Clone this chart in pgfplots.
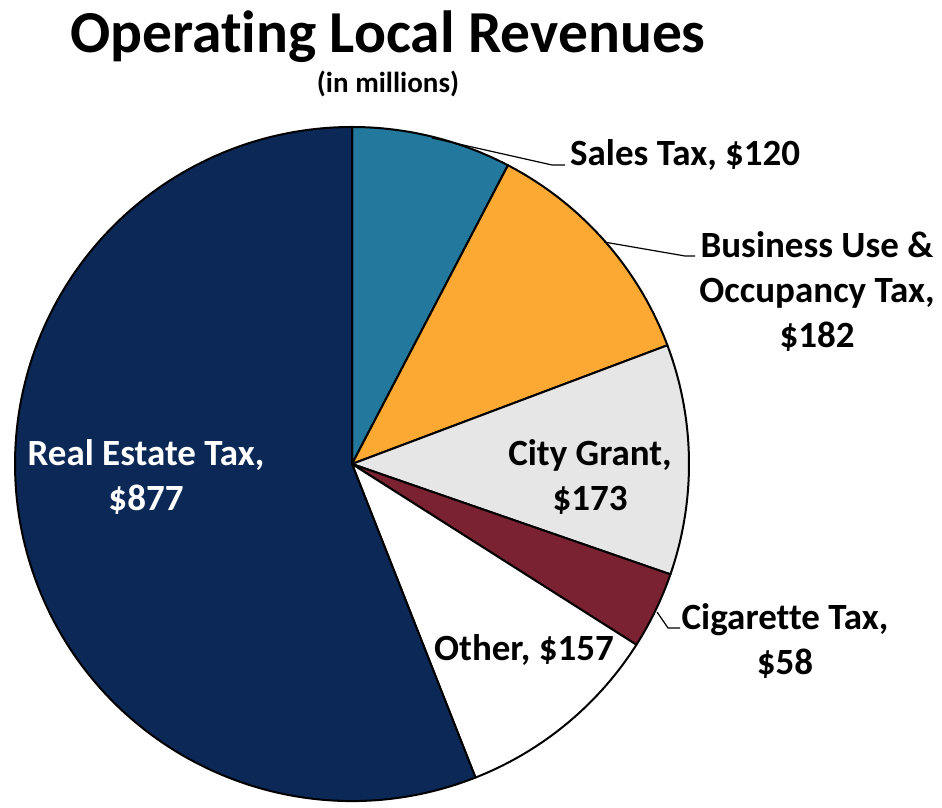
\documentclass[border=0pt]{standalone}
\usepackage{pgfplots}
\usepackage{pgfplotstable}
\pgfplotsset{compat=1.18}
\usepackage{fontspec}
\setmainfont{Carlito}[RawFeature=-liga]
\definecolor{salesc}{RGB}{35,120,158}
\definecolor{buotc}{RGB}{251,169,51}
\definecolor{cityc}{RGB}{230,230,230}
\definecolor{cigc}{RGB}{123,34,50}
\definecolor{rec}{RGB}{12,40,86}
\pgfplotstableread{
name value
Sales 120
BUOT 182
City 173
Cig 58
Other 157
RealEstate 877
}\revtable
\begin{document}
\begin{tikzpicture}
\pgfplotstablegetelem{0}{value}\of\revtable \pgfmathsetmacro\vA{\pgfplotsretval}
\pgfplotstablegetelem{1}{value}\of\revtable \pgfmathsetmacro\vB{\pgfplotsretval}
\pgfplotstablegetelem{2}{value}\of\revtable \pgfmathsetmacro\vC{\pgfplotsretval}
\pgfplotstablegetelem{3}{value}\of\revtable \pgfmathsetmacro\vD{\pgfplotsretval}
\pgfplotstablegetelem{4}{value}\of\revtable \pgfmathsetmacro\vE{\pgfplotsretval}
\pgfplotstablegetelem{5}{value}\of\revtable \pgfmathsetmacro\vF{\pgfplotsretval}
\pgfmathsetmacro\tot{\vA+\vB+\vC+\vD+\vE+\vF}
\pgfmathsetmacro\aA{90}
\pgfmathsetmacro\aB{\aA-360*(\vA/\tot)}
\pgfmathsetmacro\aC{\aB-360*(\vB/\tot)}
\pgfmathsetmacro\aD{\aC-360*(\vC/\tot)}
\pgfmathsetmacro\aE{\aD-360*(\vD/\tot)}
\pgfmathsetmacro\aF{\aE-360*(\vE/\tot)}
\pgfmathsetmacro\aG{-270}
\begin{axis}[
  at={(0,0)}, anchor=south west,
  width=942pt, height=808pt, scale only axis,
  xmin=0, xmax=942, ymin=0, ymax=808,
  hide axis, clip=false, xtick=\empty, ytick=\empty,
]
\def\pie#1#2#3{%
  \filldraw[fill=#1, draw=black, line width=2pt, line join=round]
    (axis cs:352,344) -- ++(#2:337pt) arc[start angle=#2, end angle=#3, radius=337pt] -- cycle;}
\pie{salesc}{\aA}{\aB}
\pie{buotc}{\aB}{\aC}
\pie{cityc}{\aC}{\aD}
\pie{cigc}{\aD}{\aE}
\pie{white}{\aE}{\aF}
\pie{rec}{\aF}{\aG}
% leader lines
\draw[line width=1.2pt] (axis cs:432,670) -- (axis cs:552,643) -- (axis cs:565,643);
\draw[line width=1.2pt] (axis cs:604,566) -- (axis cs:685,552) -- (axis cs:695,552);
\draw[line width=1.2pt] (axis cs:657,196) -- (axis cs:668,180) -- (axis cs:680,180);
% title
\node[anchor=base, font=\fontsize{59.5}{70}\selectfont\bfseries, inner sep=0] at (axis cs:388,755) {Operating Local Revenues};
\node[anchor=base, font=\fontsize{29}{34}\selectfont\bfseries, inner sep=0] at (axis cs:388,715) {(in millions)};
% labels
\tikzset{lbl/.style={anchor=base, font=\fontsize{37}{44}\selectfont\bfseries, inner sep=0}}
\node[lbl, anchor=base west] at (axis cs:570,642) {Sales Tax, \$120};
\node[lbl] at (axis cs:817,550) {Business Use \&};
\node[lbl] at (axis cs:817,505) {Occupancy Tax,};
\node[lbl] at (axis cs:817,460) {\$182};
\node[lbl] at (axis cs:590,342) {City Grant,};
\node[lbl] at (axis cs:590,297) {\$173};
\node[lbl] at (axis cs:785,178) {Cigarette Tax,};
\node[lbl] at (axis cs:785,133) {\$58};
\node[lbl] at (axis cs:524,147) {Other, \$157};
\node[lbl, text=white] at (axis cs:146,342) {Real Estate Tax,};
\node[lbl, text=white] at (axis cs:146,297) {\$877};
\end{axis}
\pgfresetboundingbox
\path[use as bounding box] (0,0) rectangle (942pt,808pt);
\end{tikzpicture}
\end{document}
